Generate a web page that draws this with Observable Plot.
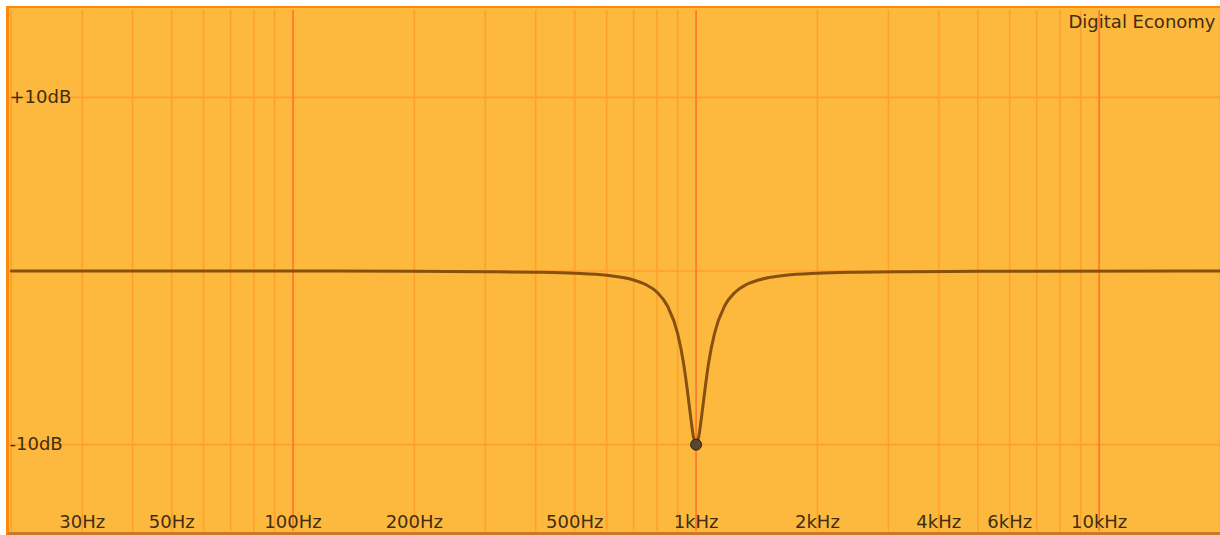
<!DOCTYPE html>
<html>
<head>
<meta charset="utf-8">
<script src="https://cdn.jsdelivr.net/npm/d3@7"></script>
<script src="https://cdn.jsdelivr.net/npm/@observablehq/plot@0.6"></script>
<style>
  html, body { margin: 0; padding: 0; background: #ffffff; width: 1220px; height: 535px; overflow: hidden; }
  #bg { position: absolute; left: 6px; top: 6px; width: 1214px; height: 529px; box-sizing: border-box;
        background: #FDB93D; border-left: 3px solid #FF8A0A; border-top: 2px solid #FF8A0A; border-bottom: 3px solid #C97A26; }
  #chart { position: absolute; left: 0; top: 0; }
</style>
</head>
<body>
<div id="bg"></div>
<div id="chart"></div>
<script>
// Response curve readings (frequency in Hz, gain in dB)
const freqs = [20, 100, 200, 300, 400, 500, 600, 700, 750, 800, 850, 900, 930, 950, 970, 985, 1000,
               1015, 1031, 1053, 1075, 1111, 1176, 1250, 1333, 1429, 1667, 2000, 2500, 3333, 5000, 20000];
const gains = [0, 0, -0.02, -0.04, -0.07, -0.13, -0.25, -0.52, -0.78, -1.22, -2.03, -3.6, -5.25, -6.75, -8.45, -9.55, -10,
               -9.55, -8.45, -6.75, -5.25, -3.6, -2.03, -1.22, -0.78, -0.52, -0.25, -0.13, -0.07, -0.04, -0.02, 0];

// Band handle
const handleFreq = [1000];
const handleGain = [-10];

// Grid
const minorGrid = [20, 30, 40, 50, 60, 70, 80, 90, 200, 300, 400, 500, 600, 700, 800, 900,
                   2000, 3000, 4000, 5000, 6000, 7000, 8000, 9000, 20000];
const majorGrid = [100, 1000, 10000];
const dbGrid = [-10, 0, 10];

// Tick labels
const xTickValues = [30, 50, 100, 200, 500, 1000, 2000, 4000, 6000, 10000];
const xTickLabels = ["30Hz", "50Hz", "100Hz", "200Hz", "500Hz", "1kHz", "2kHz", "4kHz", "6kHz", "10kHz"];
const yTickValues = [10, -10];
const yTickLabels = ["+10dB", "-10dB"];
const title = "Digital Economy";

const curve = freqs.map((f, i) => ({f, g: gains[i]}));
const handle = handleFreq.map((f, i) => ({f, g: handleGain[i]}));
const xTicks = xTickValues.map((v, i) => ({v, t: xTickLabels[i]}));
const yTicks = yTickValues.map((v, i) => ({v, t: yTickLabels[i]}));

const textColor = "#3f2e12";
const font = "DejaVu Sans, Verdana, sans-serif";

const chart = Plot.plot({
  width: 1220,
  height: 535,
  marginLeft: 9,
  marginRight: 0,
  marginTop: 10,
  marginBottom: 4,
  style: {background: "transparent", fontFamily: font},
  x: {type: "log", domain: [19.8, 20000], axis: null},
  y: {domain: [-15, 15], axis: null},
  marks: [
    Plot.ruleY(dbGrid, {stroke: "#FFA02A", strokeWidth: 1.6}),
    Plot.ruleX(minorGrid, {stroke: "#FFA02A", strokeWidth: 1.6}),
    Plot.ruleX(majorGrid, {stroke: "#FF7A2E", strokeWidth: 1.8}),
    Plot.line(curve, {x: "f", y: "g", stroke: "#87500F", strokeWidth: 3, curve: "monotone-x"}),
    Plot.dot(handle, {x: "f", y: "g", r: 5.5, fill: "#5A4630", stroke: "#2E2010", strokeWidth: 1}),
    Plot.text(xTicks, {x: "v", text: "t", frameAnchor: "bottom", lineAnchor: "middle", dy: -9,
                       fill: textColor, fontSize: 18}),
    Plot.text(yTicks, {y: "v", text: "t", frameAnchor: "left", textAnchor: "start", lineAnchor: "middle", dx: 0,
                       fill: textColor, fontSize: 18}),
    Plot.text([title], {text: d => d, frameAnchor: "top-right", textAnchor: "end", lineAnchor: "middle",
                        dx: -5, dy: 12, fill: textColor, fontSize: 18})
  ]
});
document.getElementById("chart").appendChild(chart);
</script>
</body>
</html>
